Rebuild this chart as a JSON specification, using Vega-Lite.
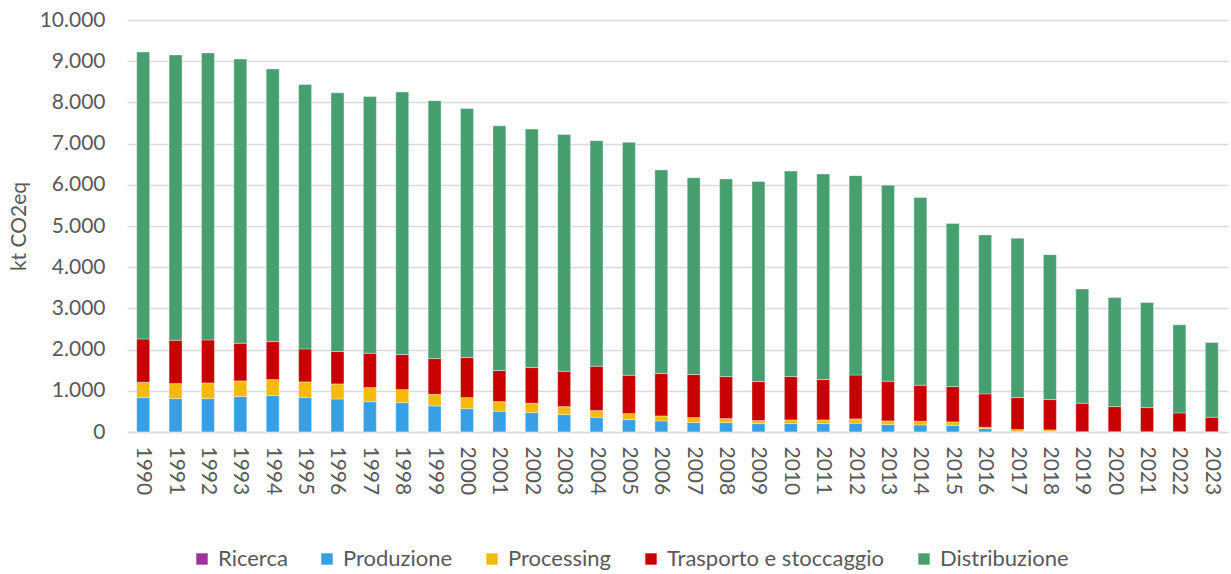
{
  "$schema": "https://vega.github.io/schema/vega-lite/v6.json",
  "width": 1101,
  "height": 412,
  "autosize": {"type": "none"},
  "padding": {"left": 127, "top": 20, "right": 3, "bottom": 142},
  "background": "white",
  "config": {
    "locale": {"number": {"decimal": ",", "thousands": ".", "grouping": [3], "currency": ["€", ""]}},
    "view": {"stroke": null},
    "font": "Lato"
  },
  "data": {"values": [
    {"year": "1990", "Ricerca": 2, "Produzione": 833, "Processing": 372, "Trasporto e stoccaggio": 1052, "Distribuzione": 6963},
    {"year": "1991", "Ricerca": 2, "Produzione": 809, "Processing": 364, "Trasporto e stoccaggio": 1052, "Distribuzione": 6925},
    {"year": "1992", "Ricerca": 2, "Produzione": 809, "Processing": 380, "Trasporto e stoccaggio": 1044, "Distribuzione": 6967},
    {"year": "1993", "Ricerca": 2, "Produzione": 858, "Processing": 380, "Trasporto e stoccaggio": 914, "Distribuzione": 6898},
    {"year": "1994", "Ricerca": 2, "Produzione": 882, "Processing": 388, "Trasporto e stoccaggio": 923, "Distribuzione": 6617},
    {"year": "1995", "Ricerca": 2, "Produzione": 833, "Processing": 381, "Trasporto e stoccaggio": 801, "Distribuzione": 6415},
    {"year": "1996", "Ricerca": 2, "Produzione": 801, "Processing": 364, "Trasporto e stoccaggio": 785, "Distribuzione": 6280},
    {"year": "1997", "Ricerca": 2, "Produzione": 736, "Processing": 340, "Trasporto e stoccaggio": 833, "Distribuzione": 6231},
    {"year": "1998", "Ricerca": 2, "Produzione": 712, "Processing": 315, "Trasporto e stoccaggio": 850, "Distribuzione": 6373},
    {"year": "1999", "Ricerca": 2, "Produzione": 631, "Processing": 283, "Trasporto e stoccaggio": 866, "Distribuzione": 6260},
    {"year": "2000", "Ricerca": 2, "Produzione": 566, "Processing": 267, "Trasporto e stoccaggio": 971, "Distribuzione": 6046},
    {"year": "2001", "Ricerca": 2, "Produzione": 502, "Processing": 234, "Trasporto e stoccaggio": 753, "Distribuzione": 5941},
    {"year": "2002", "Ricerca": 2, "Produzione": 469, "Processing": 227, "Trasporto e stoccaggio": 865, "Distribuzione": 5789},
    {"year": "2003", "Ricerca": 2, "Produzione": 421, "Processing": 194, "Trasporto e stoccaggio": 857, "Distribuzione": 5748},
    {"year": "2004", "Ricerca": 2, "Produzione": 356, "Processing": 162, "Trasporto e stoccaggio": 1076, "Distribuzione": 5476},
    {"year": "2005", "Ricerca": 2, "Produzione": 299, "Processing": 146, "Trasporto e stoccaggio": 930, "Distribuzione": 5655},
    {"year": "2006", "Ricerca": 2, "Produzione": 267, "Processing": 121, "Trasporto e stoccaggio": 1028, "Distribuzione": 4944},
    {"year": "2007", "Ricerca": 2, "Produzione": 227, "Processing": 121, "Trasporto e stoccaggio": 1044, "Distribuzione": 4778},
    {"year": "2008", "Ricerca": 2, "Produzione": 227, "Processing": 97, "Trasporto e stoccaggio": 1019, "Distribuzione": 4797},
    {"year": "2009", "Ricerca": 2, "Produzione": 202, "Processing": 73, "Trasporto e stoccaggio": 947, "Distribuzione": 4858},
    {"year": "2010", "Ricerca": 2, "Produzione": 202, "Processing": 89, "Trasporto e stoccaggio": 1052, "Distribuzione": 4987},
    {"year": "2011", "Ricerca": 2, "Produzione": 202, "Processing": 89, "Trasporto e stoccaggio": 979, "Distribuzione": 4990},
    {"year": "2012", "Ricerca": 2, "Produzione": 210, "Processing": 106, "Trasporto e stoccaggio": 1067, "Distribuzione": 4837},
    {"year": "2013", "Ricerca": 2, "Produzione": 178, "Processing": 89, "Trasporto e stoccaggio": 963, "Distribuzione": 4760},
    {"year": "2014", "Ricerca": 2, "Produzione": 170, "Processing": 89, "Trasporto e stoccaggio": 874, "Distribuzione": 4557},
    {"year": "2015", "Ricerca": 2, "Produzione": 154, "Processing": 89, "Trasporto e stoccaggio": 857, "Distribuzione": 3960},
    {"year": "2016", "Ricerca": 2, "Produzione": 81, "Processing": 32, "Trasporto e stoccaggio": 809, "Distribuzione": 3858},
    {"year": "2017", "Ricerca": 2, "Produzione": 16, "Processing": 41, "Trasporto e stoccaggio": 776, "Distribuzione": 3867},
    {"year": "2018", "Ricerca": 2, "Produzione": 10, "Processing": 39, "Trasporto e stoccaggio": 736, "Distribuzione": 3515},
    {"year": "2019", "Ricerca": 2, "Produzione": 0, "Processing": 5, "Trasporto e stoccaggio": 691, "Distribuzione": 2774},
    {"year": "2020", "Ricerca": 2, "Produzione": 0, "Processing": 5, "Trasporto e stoccaggio": 610, "Distribuzione": 2645},
    {"year": "2021", "Ricerca": 2, "Produzione": 0, "Processing": 5, "Trasporto e stoccaggio": 585, "Distribuzione": 2550},
    {"year": "2022", "Ricerca": 2, "Produzione": 0, "Processing": 5, "Trasporto e stoccaggio": 456, "Distribuzione": 2139},
    {"year": "2023", "Ricerca": 2, "Produzione": 0, "Processing": 5, "Trasporto e stoccaggio": 351, "Distribuzione": 1814}
  ]},
  "transform": [
    {"fold": ["Ricerca", "Produzione", "Processing", "Trasporto e stoccaggio", "Distribuzione"], "as": ["categoria", "valore"]},
    {"window": [{"op": "row_number", "as": "ordine"}], "groupby": ["year"]}
  ],
  "mark": {"type": "bar", "stroke": "white", "strokeWidth": 0.6, "strokeOpacity": 0.6},
  "encoding": {
    "x": {
      "field": "year", "type": "ordinal",
      "scale": {"paddingInner": 0.6, "paddingOuter": 0.3},
      "axis": {
        "title": null, "labelAngle": 90, "labelAlign": "left", "labelBaseline": "middle",
        "labelFontSize": 21, "labelColor": "#595959", "labelPadding": 14,
        "ticks": false, "domainColor": "#D9D9D9", "domainWidth": 1.5, "grid": false
      }
    },
    "y": {
      "field": "valore", "type": "quantitative", "stack": "zero",
      "scale": {"domain": [0, 10000], "nice": false},
      "axis": {
        "title": "kt CO2eq", "titleFontSize": 21, "titleFontWeight": "normal", "titleColor": "#595959", "titlePadding": 10,
        "format": ",d", "values": [0, 1000, 2000, 3000, 4000, 5000, 6000, 7000, 8000, 9000, 10000],
        "labelFontSize": 21, "labelColor": "#595959", "labelPadding": 22,
        "ticks": false, "domain": false, "gridColor": "#D9D9D9", "gridWidth": 1.5
      }
    },
    "color": {
      "field": "categoria", "type": "nominal",
      "scale": {
        "domain": ["Ricerca", "Produzione", "Processing", "Trasporto e stoccaggio", "Distribuzione"],
        "range": ["#A0309A", "#35A0E6", "#F5BA0C", "#C80000", "#479E6E"]
      },
      "legend": {
        "title": null, "orient": "none", "direction": "horizontal",
        "legendX": 64, "legendY": 528,
        "symbolType": "square", "symbolSize": 130, "symbolStrokeWidth": 0,
        "labelFontSize": 22, "labelColor": "#595959", "labelLimit": 0, "columnPadding": 28, "labelOffset": 5
      }
    },
    "order": {"field": "ordine", "type": "quantitative"}
  }
}
